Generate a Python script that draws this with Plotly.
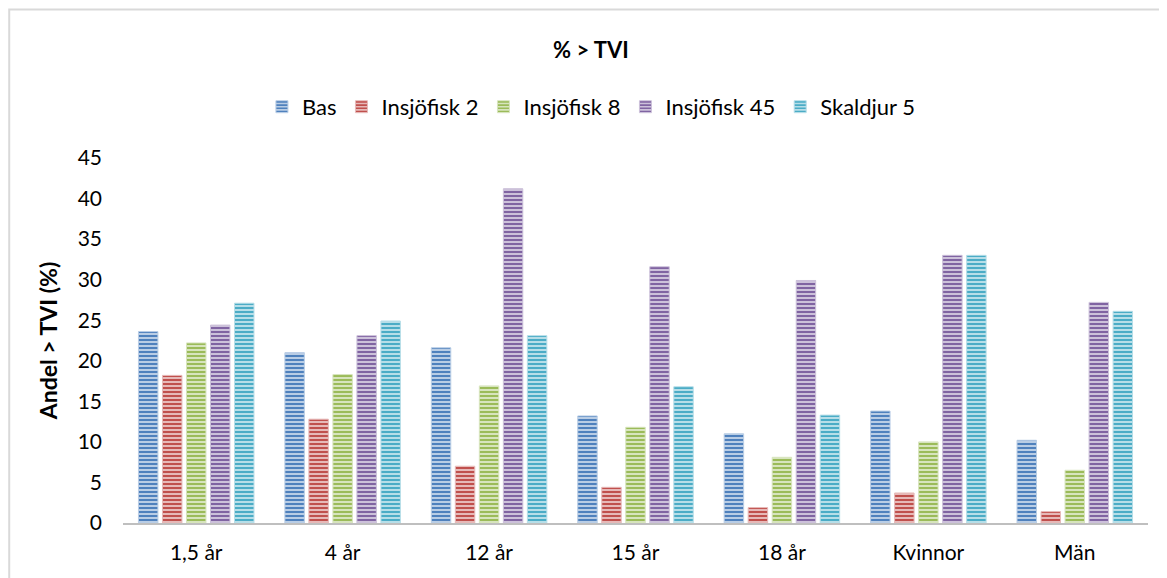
import plotly.graph_objects as go

categories = ["1,5 år", "4 år", "12 år", "15 år", "18 år", "Kvinnor", "Män"]
series_names = ["Bas", "Insjöfisk 2", "Insjöfisk 8", "Insjöfisk 45", "Skaldjur 5"]
bas = [23.6, 21.0, 21.6, 13.2, 11.0, 13.8, 10.2]
insjofisk_2 = [18.2, 12.8, 7.0, 4.4, 1.9, 3.7, 1.4]
insjofisk_8 = [22.2, 18.3, 16.9, 11.8, 8.1, 10.0, 6.5]
insjofisk_45 = [24.4, 23.1, 41.2, 31.6, 29.9, 33.0, 27.2]
skaldjur_5 = [27.1, 24.9, 23.1, 16.8, 13.3, 33.0, 26.1]
y_ticks = [0, 5, 10, 15, 20, 25, 30, 35, 40, 45]

series_values = [bas, insjofisk_2, insjofisk_8, insjofisk_45, skaldjur_5]
fg_colors = ["#4F81BD", "#C0504D", "#9BBB59", "#8064A2", "#4BACC6"]
bg_colors = ["#B9CDE5", "#E6B9B8", "#D7E4BD", "#CCC1DA", "#B7DEE8"]

FONT = "Lato, 'Open Sans', sans-serif"

fig = go.Figure()
for name, vals, fg, bg in zip(series_names, series_values, fg_colors, bg_colors):
    fig.add_trace(go.Bar(
        name=name, x=categories, y=vals,
        marker=dict(
            color=fg,
            line=dict(color=bg, width=1),
            pattern=dict(shape="-", fgcolor=fg, bgcolor=bg, size=4, solidity=0.5, fillmode="replace"),
        ),
    ))

fig.update_layout(
    width=1159, height=570,
    margin=dict(l=115, r=19, t=150, b=55, autoexpand=False),
    paper_bgcolor="white", plot_bgcolor="white",
    font=dict(family=FONT, size=21, color="#000000"),
    title=dict(text="<b>% > TVI</b>", x=0.503, xanchor="center", y=0.926, yanchor="middle",
               font=dict(family=FONT, size=22, color="#000000")),
    barmode="group", bargap=0.18, bargroupgap=0.19,
    legend=dict(orientation="h", x=0.457, xanchor="center", y=1.14, yanchor="middle",
                font=dict(family=FONT, size=22), itemwidth=30, traceorder="normal"),
    showlegend=True,
)
fig.update_yaxes(
    range=[0, 45], tickvals=y_ticks, showgrid=False, zeroline=False,
    showline=False, ticks="", ticklabelstandoff=20,
    tickfont=dict(family=FONT, size=21),
    title=dict(text="<b>Andel > TVI (%)</b>", font=dict(family=FONT, size=23), standoff=13),
)
fig.update_xaxes(
    showline=True, linecolor="#BFBFBF", linewidth=2, ticks="",
    tickfont=dict(family=FONT, size=21), ticklabelstandoff=10,
)
fig.add_shape(type="rect", xref="paper", yref="paper",
              x0=-0.111, x1=1.05, y0=-0.3, y1=1.407,
              line=dict(color="#D9D9D9", width=2), fillcolor="rgba(0,0,0,0)", layer="below")

fig.write_html("out.html")
